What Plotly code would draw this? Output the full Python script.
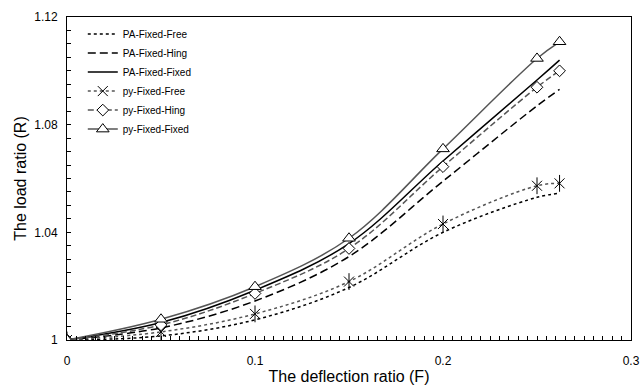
import plotly.graph_objects as go

x_pts = [0, 0.05, 0.1, 0.15, 0.2, 0.25, 0.262]

pa_fixed_free = [1.0, 1.0015, 1.0075, 1.0195, 1.0400, 1.0530, 1.0545]
pa_fixed_hing = [1.0, 1.0045, 1.0145, 1.0310, 1.0590, 1.0870, 1.0931]
pa_fixed_fixed = [1.0, 1.0065, 1.0185, 1.0358, 1.0665, 1.0966, 1.1040]
py_fixed_free = [1.0, 1.0030, 1.0097, 1.0217, 1.0431, 1.0573, 1.0582]
py_fixed_hing = [1.0, 1.0056, 1.0173, 1.0340, 1.0644, 1.0939, 1.1000]
py_fixed_fixed = [1.0, 1.0077, 1.0198, 1.0378, 1.0710, 1.1046, 1.1108]

x_ticks = [0, 0.1, 0.2, 0.3]
x_tick_labels = ["0", "0.1", "0.2", "0.3"]
y_ticks = [1.0, 1.04, 1.08, 1.12]
y_tick_labels = ["1", "1.04", "1.08", "1.12"]

GRAY = "#555555"
BLACK = "#000000"
FONT = "Liberation Sans, Arial, sans-serif"

fig = go.Figure()

fig.add_trace(go.Scatter(x=x_pts, y=pa_fixed_free, mode="lines", name="PA-Fixed-Free",
                         line=dict(color=BLACK, width=1.5, dash="3px,3px", shape="spline")))
fig.add_trace(go.Scatter(x=x_pts, y=pa_fixed_hing, mode="lines", name="PA-Fixed-Hing",
                         line=dict(color=BLACK, width=1.5, dash="8px,4px", shape="spline")))
fig.add_trace(go.Scatter(x=x_pts, y=pa_fixed_fixed, mode="lines", name="PA-Fixed-Fixed",
                         line=dict(color=BLACK, width=1.5, shape="spline")))
fig.add_trace(go.Scatter(x=x_pts, y=py_fixed_free, mode="lines+markers", name="py-Fixed-Free",
                         line=dict(color=GRAY, width=1.5, dash="3px,3px", shape="spline"),
                         marker=dict(symbol="x-thin-open", size=10, color=BLACK, line=dict(color=BLACK, width=1))))
fig.add_trace(go.Scatter(x=x_pts, y=py_fixed_free, mode="markers", showlegend=False, hoverinfo="skip",
                         marker=dict(symbol="line-ns-open", size=12, color=BLACK, line=dict(color=BLACK, width=1))))
fig.add_trace(go.Scatter(x=x_pts, y=py_fixed_hing, mode="lines+markers", name="py-Fixed-Hing",
                         line=dict(color=GRAY, width=1.5, dash="6px,3px", shape="spline"),
                         marker=dict(symbol="diamond", size=9, color="white", line=dict(color=BLACK, width=1))))
fig.add_trace(go.Scatter(x=x_pts, y=py_fixed_fixed, mode="lines+markers", name="py-Fixed-Fixed",
                         line=dict(color=GRAY, width=1.5, shape="spline"),
                         marker=dict(symbol="triangle-up", size=11, color="white", line=dict(color=BLACK, width=1))))

axis_common = dict(showline=True, linecolor=BLACK, linewidth=1, mirror=True, showgrid=False,
                   zeroline=False, ticks="inside", ticklen=4, tickcolor=BLACK, automargin=False,
                   tickfont=dict(family=FONT, size=12, color=BLACK))

fig.update_xaxes(range=[0, 0.3], tickvals=x_ticks, ticktext=x_tick_labels, ticklabelstandoff=10,
                 title=dict(text="The deflection ratio (F)", font=dict(family=FONT, size=16, color=BLACK), standoff=3),
                 minor=dict(dtick=0.005, ticks="inside", ticklen=4, tickcolor=BLACK, showgrid=False),
                 **axis_common)
fig.update_yaxes(range=[1.0, 1.12], tickvals=y_ticks, ticktext=y_tick_labels, ticklabelstandoff=6,
                 title=dict(text="The load ratio (R)", font=dict(family=FONT, size=16, color=BLACK), standoff=3),
                 minor=dict(dtick=0.005, ticks="inside", ticklen=4, tickcolor=BLACK, showgrid=False),
                 **axis_common)

fig.update_layout(
    width=642, height=389,
    margin=dict(l=67, r=11, t=17, b=49),
    paper_bgcolor="white", plot_bgcolor="white",
    font=dict(family=FONT, size=12, color=BLACK),
    legend=dict(x=0.028, y=0.992, xanchor="left", yanchor="top", bgcolor="rgba(0,0,0,0)",
                font=dict(family=FONT, size=10, color=BLACK), tracegroupgap=0),
    showlegend=True,
)

fig.write_html("out.html")
